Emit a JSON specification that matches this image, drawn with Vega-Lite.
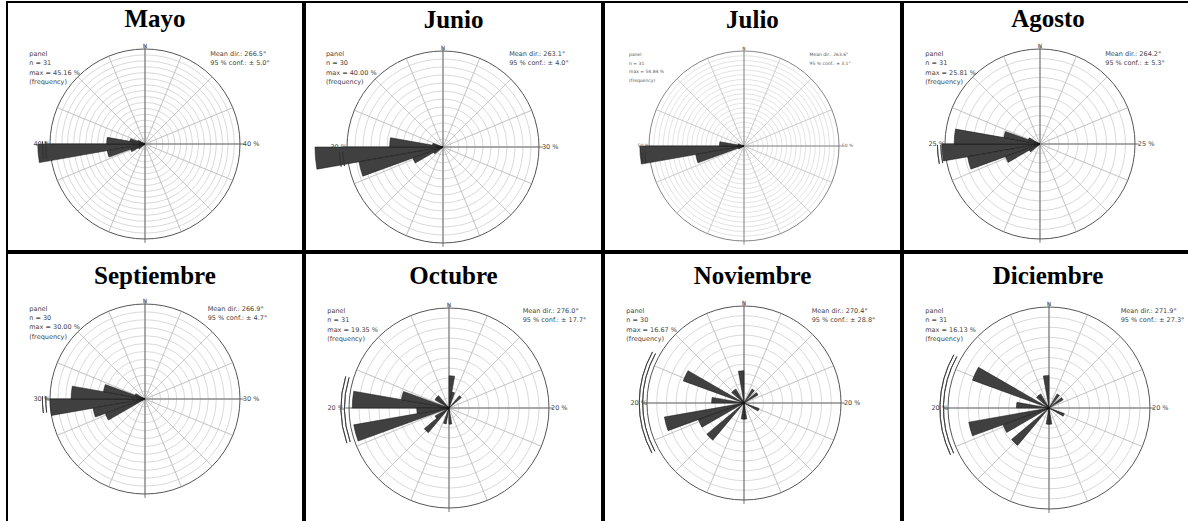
{
"$schema": "https://vega.github.io/schema/vega-lite/v6.json",
"padding": {"left": 6, "top": 1, "right": 2, "bottom": 2},
"background": "white",
"spacing": 0,
"config": {"view": {"stroke": "#000", "strokeWidth": 2}},
"datasets": {
"spokes": [{"a":0},{"a":22.5},{"a":45},{"a":67.5},{"a":90},{"a":112.5},{"a":135},{"a":157.5},{"a":180},{"a":202.5},{"a":225},{"a":247.5},{"a":270},{"a":292.5},{"a":315},{"a":337.5}],
"axes": [{"a":0},{"a":90},{"a":180},{"a":270}],
"rings_Mayo": [{"r":2.5},{"r":5},{"r":7.5},{"r":10},{"r":12.5},{"r":15},{"r":17.5},{"r":20},{"r":22.5},{"r":25},{"r":27.5},{"r":30},{"r":32.5},{"r":35},{"r":37.5}],
"rings_Junio": [{"r":2.5},{"r":5},{"r":7.5},{"r":10},{"r":12.5},{"r":15},{"r":17.5},{"r":20},{"r":22.5},{"r":25},{"r":27.5}],
"rings_Julio": [{"r":2.5},{"r":5},{"r":7.5},{"r":10},{"r":12.5},{"r":15},{"r":17.5},{"r":20},{"r":22.5},{"r":25},{"r":27.5},{"r":30},{"r":32.5},{"r":35},{"r":37.5},{"r":40},{"r":42.5},{"r":45},{"r":47.5}],
"rings_Agosto": [{"r":2.5},{"r":5},{"r":7.5},{"r":10},{"r":12.5},{"r":15},{"r":17.5},{"r":20},{"r":22.5}],
"rings_Septiembre": [{"r":2.5},{"r":5},{"r":7.5},{"r":10},{"r":12.5},{"r":15},{"r":17.5},{"r":20},{"r":22.5},{"r":25},{"r":27.5}],
"rings_20": [{"r":2},{"r":4},{"r":6},{"r":8},{"r":10},{"r":12},{"r":14},{"r":16},{"r":18}],
"bars_Mayo": [{"s":260,"e":270,"f":45.16},{"s":270,"e":280,"f":16.13},{"s":250,"e":260,"f":16.13},{"s":280,"e":290,"f":6.45},{"s":240,"e":250,"f":6.45},{"s":290,"e":300,"f":3.23},{"s":230,"e":240,"f":3.23}],
"bars_Junio": [{"s":260,"e":270,"f":40},{"s":250,"e":260,"f":26.67},{"s":270,"e":280,"f":16.67},{"s":240,"e":250,"f":10},{"s":280,"e":290,"f":3.33},{"s":230,"e":240,"f":3.33}],
"bars_Julio": [{"s":260,"e":270,"f":54.84},{"s":250,"e":260,"f":25.81},{"s":270,"e":280,"f":12.9},{"s":240,"e":250,"f":3.23},{"s":280,"e":290,"f":3.23}],
"bars_Agosto": [{"s":260,"e":270,"f":25.81},{"s":270,"e":280,"f":22.58},{"s":250,"e":260,"f":19.35},{"s":280,"e":290,"f":9.68},{"s":240,"e":250,"f":9.68},{"s":290,"e":300,"f":3.23},{"s":230,"e":240,"f":3.23}],
"bars_Septiembre": [{"s":260,"e":270,"f":30},{"s":270,"e":280,"f":23.33},{"s":250,"e":260,"f":16.67},{"s":280,"e":290,"f":13.33},{"s":240,"e":250,"f":13.33},{"s":290,"e":300,"f":3.33}],
"bars_Octubre": [{"s":270,"e":280,"f":19.35},{"s":250,"e":260,"f":19.35},{"s":280,"e":290,"f":9.68},{"s":260,"e":270,"f":6.45},{"s":0,"e":10,"f":6.45},{"s":220,"e":230,"f":6.45},{"s":40,"e":50,"f":3.23},{"s":10,"e":20,"f":3.23},{"s":300,"e":310,"f":3.23},{"s":310,"e":320,"f":3.23},{"s":190,"e":200,"f":3.23},{"s":170,"e":180,"f":3.23},{"s":230,"e":240,"f":3.23}],
"bars_Noviembre": [{"s":250,"e":260,"f":16.67},{"s":290,"e":300,"f":13.33},{"s":240,"e":250,"f":10},{"s":220,"e":230,"f":10},{"s":270,"e":280,"f":6.67},{"s":350,"e":360,"f":6.67},{"s":30,"e":40,"f":3.33},{"s":50,"e":60,"f":3.33},{"s":110,"e":120,"f":3.33},{"s":170,"e":180,"f":3.33},{"s":180,"e":190,"f":3.33},{"s":320,"e":330,"f":3.33},{"s":310,"e":320,"f":3.33}],
"bars_Diciembre": [{"s":250,"e":260,"f":16.13},{"s":290,"e":300,"f":16.13},{"s":240,"e":250,"f":9.68},{"s":220,"e":230,"f":9.68},{"s":270,"e":280,"f":6.45},{"s":350,"e":360,"f":6.45},{"s":30,"e":40,"f":3.23},{"s":50,"e":60,"f":3.23},{"s":110,"e":120,"f":3.23},{"s":170,"e":180,"f":3.23},{"s":180,"e":190,"f":3.23},{"s":320,"e":330,"f":3.23},{"s":310,"e":320,"f":3.23}],
"info_Mayo": [{"m":"Mayo","left":"panel\nn = 31\nmax = 45.16 %\n(frequency)","right":"Mean dir.: 266.5°\n95 % conf.: ± 5.0°","ring":"40 %","lo":261.5,"hi":271.5}],
"info_Junio": [{"m":"Junio","left":"panel\nn = 30\nmax = 40.00 %\n(frequency)","right":"Mean dir.: 263.1°\n95 % conf.: ± 4.0°","ring":"30 %","lo":259.1,"hi":267.1}],
"info_Julio": [{"m":"Julio","left":"panel\nn = 31\nmax = 54.84 %\n(frequency)","right":"Mean dir.: 263.6°\n95 % conf.: ± 3.1°","ring":"50 %","lo":260.5,"hi":266.7}],
"info_Agosto": [{"m":"Agosto","left":"panel\nn = 31\nmax = 25.81 %\n(frequency)","right":"Mean dir.: 264.2°\n95 % conf.: ± 5.3°","ring":"25 %","lo":258.9,"hi":269.5}],
"info_Septiembre": [{"m":"Septiembre","left":"panel\nn = 30\nmax = 30.00 %\n(frequency)","right":"Mean dir.: 266.9°\n95 % conf.: ± 4.7°","ring":"30 %","lo":262.2,"hi":271.6}],
"info_Octubre": [{"m":"Octubre","left":"panel\nn = 31\nmax = 19.35 %\n(frequency)","right":"Mean dir.: 276.0°\n95 % conf.: ± 17.7°","ring":"20 %","lo":251,"hi":287}],
"info_Noviembre": [{"m":"Noviembre","left":"panel\nn = 30\nmax = 16.67 %\n(frequency)","right":"Mean dir.: 270.4°\n95 % conf.: ± 28.8°","ring":"20 %","lo":241.6,"hi":299.2}],
"info_Diciembre": [{"m":"Diciembre","left":"panel\nn = 31\nmax = 16.13 %\n(frequency)","right":"Mean dir.: 271.9°\n95 % conf.: ± 27.3°","ring":"20 %","lo":244.6,"hi":299.2}]
},
"vconcat": [
{"hconcat": [
{"width": 296, "height": 249, "data": {"name": "info_Mayo"},
 "encoding": {"x": {"datum": 0, "type": "quantitative", "scale": {"domain": [-1.4526, 1.6632], "nice": false, "zero": false}, "axis": null},
              "y": {"datum": 0, "type": "quantitative", "scale": {"domain": [-1.1263, 1.4947], "nice": false, "zero": false}, "axis": null}},
 "layer": [
  {"data": {"name": "rings_Mayo"}, "mark": {"type": "arc", "filled": false, "stroke": "#c8c8c8", "strokeWidth": 0.7, "theta": 0, "theta2": 6.2832},
   "encoding": {"radius": {"field": "r", "type": "quantitative", "stack": null, "scale": {"type": "linear", "domain": [0, 40], "range": [0, 95], "nice": false, "zero": true}}}},
  {"data": {"name": "spokes"}, "mark": {"type": "arc", "filled": false, "stroke": "#b4b4b4", "strokeWidth": 0.5},
   "encoding": {"theta": {"field": "a", "type": "quantitative", "stack": null, "scale": {"domain": [0, 360], "range": [0, 6.2832]}}, "theta2": {"field": "a"}, "radius": {"datum": 40, "type": "quantitative"}}},
  {"data": {"name": "axes"}, "mark": {"type": "arc", "filled": false, "stroke": "#777", "strokeWidth": 0.6},
   "encoding": {"theta": {"field": "a", "type": "quantitative", "stack": null, "scale": {"domain": [0, 360], "range": [0, 6.2832]}}, "theta2": {"field": "a"}, "radius": {"datum": 41.6, "type": "quantitative"}}},
  {"mark": {"type": "arc", "filled": false, "stroke": "#555", "strokeWidth": 1, "theta": 0, "theta2": 6.2832}, "encoding": {"radius": {"datum": 40, "type": "quantitative"}}},
  {"data": {"name": "bars_Mayo"}, "mark": {"type": "arc", "fill": "#404040", "stroke": "#111", "strokeWidth": 0.5},
   "encoding": {"theta": {"field": "s", "type": "quantitative", "stack": null, "scale": {"domain": [0, 360], "range": [0, 6.2832]}}, "theta2": {"field": "e"}, "radius": {"field": "f", "type": "quantitative", "stack": null}}},
  {"mark": {"type": "arc", "filled": false, "stroke": "#333", "strokeWidth": 0.8}, "encoding": {"theta": {"field": "lo", "type": "quantitative", "stack": null, "scale": {"domain": [0, 360], "range": [0, 6.2832]}}, "theta2": {"field": "hi"}, "radius": {"datum": 41.8, "type": "quantitative"}, "radius2": {"datum": 41.8}}},
  {"mark": {"type": "arc", "filled": false, "stroke": "#333", "strokeWidth": 0.8}, "encoding": {"theta": {"field": "lo", "type": "quantitative", "stack": null, "scale": {"domain": [0, 360], "range": [0, 6.2832]}}, "theta2": {"field": "hi"}, "radius": {"datum": 43.2, "type": "quantitative"}, "radius2": {"datum": 43.2}}},
  {"mark": {"type": "text", "align": "left", "baseline": "top", "font": "DejaVu Sans", "fontSize": 6.5, "lineHeight": 9.3, "lineBreak": "\n", "fill": "#444"}, "encoding": {"x": {"datum": -1.218}, "y": {"datum": 0.979}, "text": {"field": "left"}}},
  {"mark": {"type": "text", "align": "left", "baseline": "top", "font": "DejaVu Sans", "fontSize": 6.5, "lineHeight": 9.3, "lineBreak": "\n", "fill": "#444"}, "encoding": {"x": {"datum": 0.687}, "y": {"datum": 0.979}, "text": {"field": "right"}}},
  {"mark": {"type": "text", "align": "right", "baseline": "middle", "font": "DejaVu Sans", "fontSize": 6.5, "fill": "#444"}, "encoding": {"x": {"datum": -1.0}, "y": {"datum": 0}, "text": {"field": "ring"}}},
  {"mark": {"type": "text", "align": "left", "baseline": "middle", "font": "DejaVu Sans", "fontSize": 6.5, "fill": "#444"}, "encoding": {"x": {"datum": 1.03}, "y": {"datum": 0}, "text": {"field": "ring"}}},
  {"mark": {"type": "text", "align": "center", "baseline": "bottom", "font": "DejaVu Sans", "fontSize": 6, "fill": "#444"}, "encoding": {"x": {"datum": 0}, "y": {"datum": 1.0}, "text": {"value": "N"}}},
  {"mark": {"type": "text", "align": "center", "baseline": "alphabetic", "font": "Liberation Serif", "fontWeight": "bold", "fontSize": 25, "fill": "#000"}, "encoding": {"x": {"datum": 0.105}, "y": {"datum": 1.232}, "text": {"field": "m"}}}
 ]},
{"width": 297, "height": 249, "data": {"name": "info_Junio"},
 "encoding": {"x": {"datum": 0, "type": "quantitative", "scale": {"domain": [-1.4375, 1.6563], "nice": false, "zero": false}, "axis": null},
              "y": {"datum": 0, "type": "quantitative", "scale": {"domain": [-1.0833, 1.5104], "nice": false, "zero": false}, "axis": null}},
 "layer": [
  {"data": {"name": "rings_Junio"}, "mark": {"type": "arc", "filled": false, "stroke": "#c8c8c8", "strokeWidth": 0.7, "theta": 0, "theta2": 6.2832},
   "encoding": {"radius": {"field": "r", "type": "quantitative", "stack": null, "scale": {"type": "linear", "domain": [0, 30], "range": [0, 96], "nice": false, "zero": true}}}},
  {"data": {"name": "spokes"}, "mark": {"type": "arc", "filled": false, "stroke": "#b4b4b4", "strokeWidth": 0.5},
   "encoding": {"theta": {"field": "a", "type": "quantitative", "stack": null, "scale": {"domain": [0, 360], "range": [0, 6.2832]}}, "theta2": {"field": "a"}, "radius": {"datum": 30, "type": "quantitative"}}},
  {"data": {"name": "axes"}, "mark": {"type": "arc", "filled": false, "stroke": "#777", "strokeWidth": 0.6},
   "encoding": {"theta": {"field": "a", "type": "quantitative", "stack": null, "scale": {"domain": [0, 360], "range": [0, 6.2832]}}, "theta2": {"field": "a"}, "radius": {"datum": 31.2, "type": "quantitative"}}},
  {"mark": {"type": "arc", "filled": false, "stroke": "#555", "strokeWidth": 1, "theta": 0, "theta2": 6.2832}, "encoding": {"radius": {"datum": 30, "type": "quantitative"}}},
  {"data": {"name": "bars_Junio"}, "mark": {"type": "arc", "fill": "#404040", "stroke": "#111", "strokeWidth": 0.5},
   "encoding": {"theta": {"field": "s", "type": "quantitative", "stack": null, "scale": {"domain": [0, 360], "range": [0, 6.2832]}}, "theta2": {"field": "e"}, "radius": {"field": "f", "type": "quantitative", "stack": null}}},
  {"mark": {"type": "arc", "filled": false, "stroke": "#333", "strokeWidth": 0.8}, "encoding": {"theta": {"field": "lo", "type": "quantitative", "stack": null, "scale": {"domain": [0, 360], "range": [0, 6.2832]}}, "theta2": {"field": "hi"}, "radius": {"datum": 31.35, "type": "quantitative"}, "radius2": {"datum": 31.35}}},
  {"mark": {"type": "arc", "filled": false, "stroke": "#333", "strokeWidth": 0.8}, "encoding": {"theta": {"field": "lo", "type": "quantitative", "stack": null, "scale": {"domain": [0, 360], "range": [0, 6.2832]}}, "theta2": {"field": "hi"}, "radius": {"datum": 32.4, "type": "quantitative"}, "radius2": {"datum": 32.4}}},
  {"mark": {"type": "text", "align": "left", "baseline": "top", "font": "DejaVu Sans", "fontSize": 6.5, "lineHeight": 9.3, "lineBreak": "\n", "fill": "#444"}, "encoding": {"x": {"datum": -1.219}, "y": {"datum": 1.0}, "text": {"field": "left"}}},
  {"mark": {"type": "text", "align": "left", "baseline": "top", "font": "DejaVu Sans", "fontSize": 6.5, "lineHeight": 9.3, "lineBreak": "\n", "fill": "#444"}, "encoding": {"x": {"datum": 0.69}, "y": {"datum": 1.0}, "text": {"field": "right"}}},
  {"mark": {"type": "text", "align": "right", "baseline": "middle", "font": "DejaVu Sans", "fontSize": 6.5, "fill": "#444"}, "encoding": {"x": {"datum": -1.0}, "y": {"datum": 0}, "text": {"field": "ring"}}},
  {"mark": {"type": "text", "align": "left", "baseline": "middle", "font": "DejaVu Sans", "fontSize": 6.5, "fill": "#444"}, "encoding": {"x": {"datum": 1.03}, "y": {"datum": 0}, "text": {"field": "ring"}}},
  {"mark": {"type": "text", "align": "center", "baseline": "bottom", "font": "DejaVu Sans", "fontSize": 6, "fill": "#444"}, "encoding": {"x": {"datum": 0}, "y": {"datum": 1.0}, "text": {"value": "N"}}},
  {"mark": {"type": "text", "align": "center", "baseline": "alphabetic", "font": "Liberation Serif", "fontWeight": "bold", "fontSize": 25, "fill": "#000"}, "encoding": {"x": {"datum": 0.11}, "y": {"datum": 1.243}, "text": {"field": "m"}}}
 ]},
{"width": 297, "height": 249, "data": {"name": "info_Julio"},
 "encoding": {"x": {"datum": 0, "type": "quantitative", "scale": {"domain": [-1.4737, 1.6526], "nice": false, "zero": false}, "axis": null},
              "y": {"datum": 0, "type": "quantitative", "scale": {"domain": [-1.1053, 1.5158], "nice": false, "zero": false}, "axis": null}},
 "layer": [
  {"data": {"name": "rings_Julio"}, "mark": {"type": "arc", "filled": false, "stroke": "#d0d0d0", "strokeWidth": 0.6, "theta": 0, "theta2": 6.2832},
   "encoding": {"radius": {"field": "r", "type": "quantitative", "stack": null, "scale": {"type": "linear", "domain": [0, 50], "range": [0, 95], "nice": false, "zero": true}}}},
  {"data": {"name": "spokes"}, "mark": {"type": "arc", "filled": false, "stroke": "#c0c0c0", "strokeWidth": 0.5},
   "encoding": {"theta": {"field": "a", "type": "quantitative", "stack": null, "scale": {"domain": [0, 360], "range": [0, 6.2832]}}, "theta2": {"field": "a"}, "radius": {"datum": 50, "type": "quantitative"}}},
  {"data": {"name": "axes"}, "mark": {"type": "arc", "filled": false, "stroke": "#888", "strokeWidth": 0.5},
   "encoding": {"theta": {"field": "a", "type": "quantitative", "stack": null, "scale": {"domain": [0, 360], "range": [0, 6.2832]}}, "theta2": {"field": "a"}, "radius": {"datum": 52, "type": "quantitative"}}},
  {"mark": {"type": "arc", "filled": false, "stroke": "#666", "strokeWidth": 0.8, "theta": 0, "theta2": 6.2832}, "encoding": {"radius": {"datum": 50, "type": "quantitative"}}},
  {"data": {"name": "bars_Julio"}, "mark": {"type": "arc", "fill": "#404040", "stroke": "#111", "strokeWidth": 0.5},
   "encoding": {"theta": {"field": "s", "type": "quantitative", "stack": null, "scale": {"domain": [0, 360], "range": [0, 6.2832]}}, "theta2": {"field": "e"}, "radius": {"field": "f", "type": "quantitative", "stack": null}}},
  {"mark": {"type": "arc", "filled": false, "stroke": "#333", "strokeWidth": 0.6}, "encoding": {"theta": {"field": "lo", "type": "quantitative", "stack": null, "scale": {"domain": [0, 360], "range": [0, 6.2832]}}, "theta2": {"field": "hi"}, "radius": {"datum": 52.25, "type": "quantitative"}, "radius2": {"datum": 52.25}}},
  {"mark": {"type": "arc", "filled": false, "stroke": "#333", "strokeWidth": 0.6}, "encoding": {"theta": {"field": "lo", "type": "quantitative", "stack": null, "scale": {"domain": [0, 360], "range": [0, 6.2832]}}, "theta2": {"field": "hi"}, "radius": {"datum": 54, "type": "quantitative"}, "radius2": {"datum": 54}}},
  {"mark": {"type": "text", "align": "left", "baseline": "top", "font": "DejaVu Sans", "fontSize": 4.5, "lineHeight": 8.7, "lineBreak": "\n", "fill": "#555"}, "encoding": {"x": {"datum": -1.21}, "y": {"datum": 0.99}, "text": {"field": "left"}}},
  {"mark": {"type": "text", "align": "left", "baseline": "top", "font": "DejaVu Sans", "fontSize": 4.5, "lineHeight": 8.7, "lineBreak": "\n", "fill": "#555"}, "encoding": {"x": {"datum": 0.69}, "y": {"datum": 0.99}, "text": {"field": "right"}}},
  {"mark": {"type": "text", "align": "right", "baseline": "middle", "font": "DejaVu Sans", "fontSize": 4.5, "fill": "#555"}, "encoding": {"x": {"datum": -1.0}, "y": {"datum": 0}, "text": {"field": "ring"}}},
  {"mark": {"type": "text", "align": "left", "baseline": "middle", "font": "DejaVu Sans", "fontSize": 4.5, "fill": "#555"}, "encoding": {"x": {"datum": 1.03}, "y": {"datum": 0}, "text": {"field": "ring"}}},
  {"mark": {"type": "text", "align": "center", "baseline": "bottom", "font": "DejaVu Sans", "fontSize": 4.5, "fill": "#555"}, "encoding": {"x": {"datum": 0}, "y": {"datum": 1.0}, "text": {"value": "N"}}},
  {"mark": {"type": "text", "align": "center", "baseline": "alphabetic", "font": "Liberation Serif", "fontWeight": "bold", "fontSize": 25, "fill": "#000"}, "encoding": {"x": {"datum": 0.089}, "y": {"datum": 1.245}, "text": {"field": "m"}}}
 ]},
{"width": 290, "height": 249, "data": {"name": "info_Agosto"},
 "encoding": {"x": {"datum": 0, "type": "quantitative", "scale": {"domain": [-1.4421, 1.6105], "nice": false, "zero": false}, "axis": null},
              "y": {"datum": 0, "type": "quantitative", "scale": {"domain": [-1.1263, 1.4947], "nice": false, "zero": false}, "axis": null}},
 "layer": [
  {"data": {"name": "rings_Agosto"}, "mark": {"type": "arc", "filled": false, "stroke": "#c8c8c8", "strokeWidth": 0.7, "theta": 0, "theta2": 6.2832},
   "encoding": {"radius": {"field": "r", "type": "quantitative", "stack": null, "scale": {"type": "linear", "domain": [0, 25], "range": [0, 95], "nice": false, "zero": true}}}},
  {"data": {"name": "spokes"}, "mark": {"type": "arc", "filled": false, "stroke": "#b4b4b4", "strokeWidth": 0.5},
   "encoding": {"theta": {"field": "a", "type": "quantitative", "stack": null, "scale": {"domain": [0, 360], "range": [0, 6.2832]}}, "theta2": {"field": "a"}, "radius": {"datum": 25, "type": "quantitative"}}},
  {"data": {"name": "axes"}, "mark": {"type": "arc", "filled": false, "stroke": "#777", "strokeWidth": 0.6},
   "encoding": {"theta": {"field": "a", "type": "quantitative", "stack": null, "scale": {"domain": [0, 360], "range": [0, 6.2832]}}, "theta2": {"field": "a"}, "radius": {"datum": 26, "type": "quantitative"}}},
  {"mark": {"type": "arc", "filled": false, "stroke": "#555", "strokeWidth": 1, "theta": 0, "theta2": 6.2832}, "encoding": {"radius": {"datum": 25, "type": "quantitative"}}},
  {"data": {"name": "bars_Agosto"}, "mark": {"type": "arc", "fill": "#404040", "stroke": "#111", "strokeWidth": 0.5},
   "encoding": {"theta": {"field": "s", "type": "quantitative", "stack": null, "scale": {"domain": [0, 360], "range": [0, 6.2832]}}, "theta2": {"field": "e"}, "radius": {"field": "f", "type": "quantitative", "stack": null}}},
  {"mark": {"type": "arc", "filled": false, "stroke": "#333", "strokeWidth": 0.8}, "encoding": {"theta": {"field": "lo", "type": "quantitative", "stack": null, "scale": {"domain": [0, 360], "range": [0, 6.2832]}}, "theta2": {"field": "hi"}, "radius": {"datum": 26.1, "type": "quantitative"}, "radius2": {"datum": 26.1}}},
  {"mark": {"type": "arc", "filled": false, "stroke": "#333", "strokeWidth": 0.8}, "encoding": {"theta": {"field": "lo", "type": "quantitative", "stack": null, "scale": {"domain": [0, 360], "range": [0, 6.2832]}}, "theta2": {"field": "hi"}, "radius": {"datum": 27, "type": "quantitative"}, "radius2": {"datum": 27}}},
  {"mark": {"type": "text", "align": "left", "baseline": "top", "font": "DejaVu Sans", "fontSize": 6.5, "lineHeight": 9.3, "lineBreak": "\n", "fill": "#444"}, "encoding": {"x": {"datum": -1.207}, "y": {"datum": 0.979}, "text": {"field": "left"}}},
  {"mark": {"type": "text", "align": "left", "baseline": "top", "font": "DejaVu Sans", "fontSize": 6.5, "lineHeight": 9.3, "lineBreak": "\n", "fill": "#444"}, "encoding": {"x": {"datum": 0.687}, "y": {"datum": 0.979}, "text": {"field": "right"}}},
  {"mark": {"type": "text", "align": "right", "baseline": "middle", "font": "DejaVu Sans", "fontSize": 6.5, "fill": "#444"}, "encoding": {"x": {"datum": -1.0}, "y": {"datum": 0}, "text": {"field": "ring"}}},
  {"mark": {"type": "text", "align": "left", "baseline": "middle", "font": "DejaVu Sans", "fontSize": 6.5, "fill": "#444"}, "encoding": {"x": {"datum": 1.03}, "y": {"datum": 0}, "text": {"field": "ring"}}},
  {"mark": {"type": "text", "align": "center", "baseline": "bottom", "font": "DejaVu Sans", "fontSize": 6, "fill": "#444"}, "encoding": {"x": {"datum": 0}, "y": {"datum": 1.0}, "text": {"value": "N"}}},
  {"mark": {"type": "text", "align": "center", "baseline": "alphabetic", "font": "Liberation Serif", "fontWeight": "bold", "fontSize": 25, "fill": "#000"}, "encoding": {"x": {"datum": 0.084}, "y": {"datum": 1.232}, "text": {"field": "m"}}}
 ]}
], "spacing": 0},
{"hconcat": [
{"width": 296, "height": 269, "data": {"name": "info_Septiembre"},
 "encoding": {"x": {"datum": 0, "type": "quantitative", "scale": {"domain": [-1.4526, 1.6632], "nice": false, "zero": false}, "axis": null},
              "y": {"datum": 0, "type": "quantitative", "scale": {"domain": [-1.2947, 1.5368], "nice": false, "zero": false}, "axis": null}},
 "layer": [
  {"data": {"name": "rings_Septiembre"}, "mark": {"type": "arc", "filled": false, "stroke": "#c8c8c8", "strokeWidth": 0.7, "theta": 0, "theta2": 6.2832},
   "encoding": {"radius": {"field": "r", "type": "quantitative", "stack": null, "scale": {"type": "linear", "domain": [0, 30], "range": [0, 95], "nice": false, "zero": true}}}},
  {"data": {"name": "spokes"}, "mark": {"type": "arc", "filled": false, "stroke": "#b4b4b4", "strokeWidth": 0.5},
   "encoding": {"theta": {"field": "a", "type": "quantitative", "stack": null, "scale": {"domain": [0, 360], "range": [0, 6.2832]}}, "theta2": {"field": "a"}, "radius": {"datum": 30, "type": "quantitative"}}},
  {"data": {"name": "axes"}, "mark": {"type": "arc", "filled": false, "stroke": "#777", "strokeWidth": 0.6},
   "encoding": {"theta": {"field": "a", "type": "quantitative", "stack": null, "scale": {"domain": [0, 360], "range": [0, 6.2832]}}, "theta2": {"field": "a"}, "radius": {"datum": 31.2, "type": "quantitative"}}},
  {"mark": {"type": "arc", "filled": false, "stroke": "#555", "strokeWidth": 1, "theta": 0, "theta2": 6.2832}, "encoding": {"radius": {"datum": 30, "type": "quantitative"}}},
  {"data": {"name": "bars_Septiembre"}, "mark": {"type": "arc", "fill": "#404040", "stroke": "#111", "strokeWidth": 0.5},
   "encoding": {"theta": {"field": "s", "type": "quantitative", "stack": null, "scale": {"domain": [0, 360], "range": [0, 6.2832]}}, "theta2": {"field": "e"}, "radius": {"field": "f", "type": "quantitative", "stack": null}}},
  {"mark": {"type": "arc", "filled": false, "stroke": "#333", "strokeWidth": 0.8}, "encoding": {"theta": {"field": "lo", "type": "quantitative", "stack": null, "scale": {"domain": [0, 360], "range": [0, 6.2832]}}, "theta2": {"field": "hi"}, "radius": {"datum": 31.35, "type": "quantitative"}, "radius2": {"datum": 31.35}}},
  {"mark": {"type": "arc", "filled": false, "stroke": "#333", "strokeWidth": 0.8}, "encoding": {"theta": {"field": "lo", "type": "quantitative", "stack": null, "scale": {"domain": [0, 360], "range": [0, 6.2832]}}, "theta2": {"field": "hi"}, "radius": {"datum": 32.4, "type": "quantitative"}, "radius2": {"datum": 32.4}}},
  {"mark": {"type": "text", "align": "left", "baseline": "top", "font": "DejaVu Sans", "fontSize": 6.5, "lineHeight": 9.3, "lineBreak": "\n", "fill": "#444"}, "encoding": {"x": {"datum": -1.218}, "y": {"datum": 0.982}, "text": {"field": "left"}}},
  {"mark": {"type": "text", "align": "left", "baseline": "top", "font": "DejaVu Sans", "fontSize": 6.5, "lineHeight": 9.3, "lineBreak": "\n", "fill": "#444"}, "encoding": {"x": {"datum": 0.66}, "y": {"datum": 0.982}, "text": {"field": "right"}}},
  {"mark": {"type": "text", "align": "right", "baseline": "middle", "font": "DejaVu Sans", "fontSize": 6.5, "fill": "#444"}, "encoding": {"x": {"datum": -1.0}, "y": {"datum": 0}, "text": {"field": "ring"}}},
  {"mark": {"type": "text", "align": "left", "baseline": "middle", "font": "DejaVu Sans", "fontSize": 6.5, "fill": "#444"}, "encoding": {"x": {"datum": 1.03}, "y": {"datum": 0}, "text": {"field": "ring"}}},
  {"mark": {"type": "text", "align": "center", "baseline": "bottom", "font": "DejaVu Sans", "fontSize": 6, "fill": "#444"}, "encoding": {"x": {"datum": 0}, "y": {"datum": 1.0}, "text": {"value": "N"}}},
  {"mark": {"type": "text", "align": "center", "baseline": "alphabetic", "font": "Liberation Serif", "fontWeight": "bold", "fontSize": 25, "fill": "#000"}, "encoding": {"x": {"datum": 0.105}, "y": {"datum": 1.211}, "text": {"field": "m"}}}
 ]},
{"width": 297, "height": 269, "data": {"name": "info_Octubre"},
 "encoding": {"x": {"datum": 0, "type": "quantitative", "scale": {"domain": [-1.44, 1.53], "nice": false, "zero": false}, "axis": null},
              "y": {"datum": 0, "type": "quantitative", "scale": {"domain": [-1.14, 1.55], "nice": false, "zero": false}, "axis": null}},
 "layer": [
  {"data": {"name": "rings_20"}, "mark": {"type": "arc", "filled": false, "stroke": "#c8c8c8", "strokeWidth": 0.7, "theta": 0, "theta2": 6.2832},
   "encoding": {"radius": {"field": "r", "type": "quantitative", "stack": null, "scale": {"type": "linear", "domain": [0, 20], "range": [0, 100], "nice": false, "zero": true}}}},
  {"data": {"name": "spokes"}, "mark": {"type": "arc", "filled": false, "stroke": "#b4b4b4", "strokeWidth": 0.5},
   "encoding": {"theta": {"field": "a", "type": "quantitative", "stack": null, "scale": {"domain": [0, 360], "range": [0, 6.2832]}}, "theta2": {"field": "a"}, "radius": {"datum": 20, "type": "quantitative"}}},
  {"data": {"name": "axes"}, "mark": {"type": "arc", "filled": false, "stroke": "#777", "strokeWidth": 0.6},
   "encoding": {"theta": {"field": "a", "type": "quantitative", "stack": null, "scale": {"domain": [0, 360], "range": [0, 6.2832]}}, "theta2": {"field": "a"}, "radius": {"datum": 20.8, "type": "quantitative"}}},
  {"mark": {"type": "arc", "filled": false, "stroke": "#555", "strokeWidth": 1, "theta": 0, "theta2": 6.2832}, "encoding": {"radius": {"datum": 20, "type": "quantitative"}}},
  {"data": {"name": "bars_Octubre"}, "mark": {"type": "arc", "fill": "#404040", "stroke": "#111", "strokeWidth": 0.5},
   "encoding": {"theta": {"field": "s", "type": "quantitative", "stack": null, "scale": {"domain": [0, 360], "range": [0, 6.2832]}}, "theta2": {"field": "e"}, "radius": {"field": "f", "type": "quantitative", "stack": null}}},
  {"mark": {"type": "arc", "filled": false, "stroke": "#333", "strokeWidth": 0.8}, "encoding": {"theta": {"field": "lo", "type": "quantitative", "stack": null, "scale": {"domain": [0, 360], "range": [0, 6.2832]}}, "theta2": {"field": "hi"}, "radius": {"datum": 20.9, "type": "quantitative"}, "radius2": {"datum": 20.9}}},
  {"mark": {"type": "arc", "filled": false, "stroke": "#333", "strokeWidth": 0.8}, "encoding": {"theta": {"field": "lo", "type": "quantitative", "stack": null, "scale": {"domain": [0, 360], "range": [0, 6.2832]}}, "theta2": {"field": "hi"}, "radius": {"datum": 21.6, "type": "quantitative"}, "radius2": {"datum": 21.6}}},
  {"mark": {"type": "text", "align": "left", "baseline": "top", "font": "DejaVu Sans", "fontSize": 6.5, "lineHeight": 9.3, "lineBreak": "\n", "fill": "#444"}, "encoding": {"x": {"datum": -1.217}, "y": {"datum": 1.0}, "text": {"field": "left"}}},
  {"mark": {"type": "text", "align": "left", "baseline": "top", "font": "DejaVu Sans", "fontSize": 6.5, "lineHeight": 9.3, "lineBreak": "\n", "fill": "#444"}, "encoding": {"x": {"datum": 0.737}, "y": {"datum": 1.0}, "text": {"field": "right"}}},
  {"mark": {"type": "text", "align": "right", "baseline": "middle", "font": "DejaVu Sans", "fontSize": 6.5, "fill": "#444"}, "encoding": {"x": {"datum": -1.05}, "y": {"datum": 0}, "text": {"field": "ring"}}},
  {"mark": {"type": "text", "align": "left", "baseline": "middle", "font": "DejaVu Sans", "fontSize": 6.5, "fill": "#444"}, "encoding": {"x": {"datum": 1.02}, "y": {"datum": 0}, "text": {"field": "ring"}}},
  {"mark": {"type": "text", "align": "center", "baseline": "bottom", "font": "DejaVu Sans", "fontSize": 6, "fill": "#444"}, "encoding": {"x": {"datum": 0}, "y": {"datum": 1.0}, "text": {"value": "N"}}},
  {"mark": {"type": "text", "align": "center", "baseline": "alphabetic", "font": "Liberation Serif", "fontWeight": "bold", "fontSize": 25, "fill": "#000"}, "encoding": {"x": {"datum": 0.045}, "y": {"datum": 1.24}, "text": {"field": "m"}}}
 ]},
{"width": 297, "height": 269, "data": {"name": "info_Noviembre"},
 "encoding": {"x": {"datum": 0, "type": "quantitative", "scale": {"domain": [-1.4433, 1.6186], "nice": false, "zero": false}, "axis": null},
              "y": {"datum": 0, "type": "quantitative", "scale": {"domain": [-1.2268, 1.5464], "nice": false, "zero": false}, "axis": null}},
 "layer": [
  {"data": {"name": "rings_20"}, "mark": {"type": "arc", "filled": false, "stroke": "#c8c8c8", "strokeWidth": 0.7, "theta": 0, "theta2": 6.2832},
   "encoding": {"radius": {"field": "r", "type": "quantitative", "stack": null, "scale": {"type": "linear", "domain": [0, 20], "range": [0, 97], "nice": false, "zero": true}}}},
  {"data": {"name": "spokes"}, "mark": {"type": "arc", "filled": false, "stroke": "#b4b4b4", "strokeWidth": 0.5},
   "encoding": {"theta": {"field": "a", "type": "quantitative", "stack": null, "scale": {"domain": [0, 360], "range": [0, 6.2832]}}, "theta2": {"field": "a"}, "radius": {"datum": 20, "type": "quantitative"}}},
  {"data": {"name": "axes"}, "mark": {"type": "arc", "filled": false, "stroke": "#777", "strokeWidth": 0.6},
   "encoding": {"theta": {"field": "a", "type": "quantitative", "stack": null, "scale": {"domain": [0, 360], "range": [0, 6.2832]}}, "theta2": {"field": "a"}, "radius": {"datum": 20.8, "type": "quantitative"}}},
  {"mark": {"type": "arc", "filled": false, "stroke": "#555", "strokeWidth": 1, "theta": 0, "theta2": 6.2832}, "encoding": {"radius": {"datum": 20, "type": "quantitative"}}},
  {"data": {"name": "bars_Noviembre"}, "mark": {"type": "arc", "fill": "#404040", "stroke": "#111", "strokeWidth": 0.5},
   "encoding": {"theta": {"field": "s", "type": "quantitative", "stack": null, "scale": {"domain": [0, 360], "range": [0, 6.2832]}}, "theta2": {"field": "e"}, "radius": {"field": "f", "type": "quantitative", "stack": null}}},
  {"mark": {"type": "arc", "filled": false, "stroke": "#333", "strokeWidth": 0.8}, "encoding": {"theta": {"field": "lo", "type": "quantitative", "stack": null, "scale": {"domain": [0, 360], "range": [0, 6.2832]}}, "theta2": {"field": "hi"}, "radius": {"datum": 20.9, "type": "quantitative"}, "radius2": {"datum": 20.9}}},
  {"mark": {"type": "arc", "filled": false, "stroke": "#333", "strokeWidth": 0.8}, "encoding": {"theta": {"field": "lo", "type": "quantitative", "stack": null, "scale": {"domain": [0, 360], "range": [0, 6.2832]}}, "theta2": {"field": "hi"}, "radius": {"datum": 21.6, "type": "quantitative"}, "radius2": {"datum": 21.6}}},
  {"mark": {"type": "text", "align": "left", "baseline": "top", "font": "DejaVu Sans", "fontSize": 6.5, "lineHeight": 9.3, "lineBreak": "\n", "fill": "#444"}, "encoding": {"x": {"datum": -1.213}, "y": {"datum": 0.979}, "text": {"field": "left"}}},
  {"mark": {"type": "text", "align": "left", "baseline": "top", "font": "DejaVu Sans", "fontSize": 6.5, "lineHeight": 9.3, "lineBreak": "\n", "fill": "#444"}, "encoding": {"x": {"datum": 0.698}, "y": {"datum": 0.979}, "text": {"field": "right"}}},
  {"mark": {"type": "text", "align": "right", "baseline": "middle", "font": "DejaVu Sans", "fontSize": 6.5, "fill": "#444"}, "encoding": {"x": {"datum": -1.0}, "y": {"datum": 0}, "text": {"field": "ring"}}},
  {"mark": {"type": "text", "align": "left", "baseline": "middle", "font": "DejaVu Sans", "fontSize": 6.5, "fill": "#444"}, "encoding": {"x": {"datum": 1.03}, "y": {"datum": 0}, "text": {"field": "ring"}}},
  {"mark": {"type": "text", "align": "center", "baseline": "bottom", "font": "DejaVu Sans", "fontSize": 6, "fill": "#444"}, "encoding": {"x": {"datum": 0}, "y": {"datum": 1.0}, "text": {"value": "N"}}},
  {"mark": {"type": "text", "align": "center", "baseline": "alphabetic", "font": "Liberation Serif", "fontWeight": "bold", "fontSize": 25, "fill": "#000"}, "encoding": {"x": {"datum": 0.088}, "y": {"datum": 1.227}, "text": {"field": "m"}}}
 ]},
{"width": 290, "height": 269, "data": {"name": "info_Diciembre"},
 "encoding": {"x": {"datum": 0, "type": "quantitative", "scale": {"domain": [-1.4455, 1.4257], "nice": false, "zero": false}, "axis": null},
              "y": {"datum": 0, "type": "quantitative", "scale": {"domain": [-1.1287, 1.5347], "nice": false, "zero": false}, "axis": null}},
 "layer": [
  {"data": {"name": "rings_20"}, "mark": {"type": "arc", "filled": false, "stroke": "#c8c8c8", "strokeWidth": 0.7, "theta": 0, "theta2": 6.2832},
   "encoding": {"radius": {"field": "r", "type": "quantitative", "stack": null, "scale": {"type": "linear", "domain": [0, 20], "range": [0, 101], "nice": false, "zero": true}}}},
  {"data": {"name": "spokes"}, "mark": {"type": "arc", "filled": false, "stroke": "#b4b4b4", "strokeWidth": 0.5},
   "encoding": {"theta": {"field": "a", "type": "quantitative", "stack": null, "scale": {"domain": [0, 360], "range": [0, 6.2832]}}, "theta2": {"field": "a"}, "radius": {"datum": 20, "type": "quantitative"}}},
  {"data": {"name": "axes"}, "mark": {"type": "arc", "filled": false, "stroke": "#777", "strokeWidth": 0.6},
   "encoding": {"theta": {"field": "a", "type": "quantitative", "stack": null, "scale": {"domain": [0, 360], "range": [0, 6.2832]}}, "theta2": {"field": "a"}, "radius": {"datum": 20.8, "type": "quantitative"}}},
  {"mark": {"type": "arc", "filled": false, "stroke": "#555", "strokeWidth": 1, "theta": 0, "theta2": 6.2832}, "encoding": {"radius": {"datum": 20, "type": "quantitative"}}},
  {"data": {"name": "bars_Diciembre"}, "mark": {"type": "arc", "fill": "#404040", "stroke": "#111", "strokeWidth": 0.5},
   "encoding": {"theta": {"field": "s", "type": "quantitative", "stack": null, "scale": {"domain": [0, 360], "range": [0, 6.2832]}}, "theta2": {"field": "e"}, "radius": {"field": "f", "type": "quantitative", "stack": null}}},
  {"mark": {"type": "arc", "filled": false, "stroke": "#333", "strokeWidth": 0.8}, "encoding": {"theta": {"field": "lo", "type": "quantitative", "stack": null, "scale": {"domain": [0, 360], "range": [0, 6.2832]}}, "theta2": {"field": "hi"}, "radius": {"datum": 20.9, "type": "quantitative"}, "radius2": {"datum": 20.9}}},
  {"mark": {"type": "arc", "filled": false, "stroke": "#333", "strokeWidth": 0.8}, "encoding": {"theta": {"field": "lo", "type": "quantitative", "stack": null, "scale": {"domain": [0, 360], "range": [0, 6.2832]}}, "theta2": {"field": "hi"}, "radius": {"datum": 21.6, "type": "quantitative"}, "radius2": {"datum": 21.6}}},
  {"mark": {"type": "text", "align": "left", "baseline": "top", "font": "DejaVu Sans", "fontSize": 6.5, "lineHeight": 9.3, "lineBreak": "\n", "fill": "#444"}, "encoding": {"x": {"datum": -1.225}, "y": {"datum": 0.99}, "text": {"field": "left"}}},
  {"mark": {"type": "text", "align": "left", "baseline": "top", "font": "DejaVu Sans", "fontSize": 6.5, "lineHeight": 9.3, "lineBreak": "\n", "fill": "#444"}, "encoding": {"x": {"datum": 0.71}, "y": {"datum": 0.99}, "text": {"field": "right"}}},
  {"mark": {"type": "text", "align": "right", "baseline": "middle", "font": "DejaVu Sans", "fontSize": 6.5, "fill": "#444"}, "encoding": {"x": {"datum": -1.0}, "y": {"datum": 0}, "text": {"field": "ring"}}},
  {"mark": {"type": "text", "align": "left", "baseline": "middle", "font": "DejaVu Sans", "fontSize": 6.5, "fill": "#444"}, "encoding": {"x": {"datum": 1.02}, "y": {"datum": 0}, "text": {"field": "ring"}}},
  {"mark": {"type": "text", "align": "center", "baseline": "bottom", "font": "DejaVu Sans", "fontSize": 6, "fill": "#444"}, "encoding": {"x": {"datum": 0}, "y": {"datum": 1.0}, "text": {"value": "N"}}},
  {"mark": {"type": "text", "align": "center", "baseline": "alphabetic", "font": "Liberation Serif", "fontWeight": "bold", "fontSize": 25, "fill": "#000"}, "encoding": {"x": {"datum": -0.01}, "y": {"datum": 1.228}, "text": {"field": "m"}}}
 ]}
], "spacing": 0}
]
}
